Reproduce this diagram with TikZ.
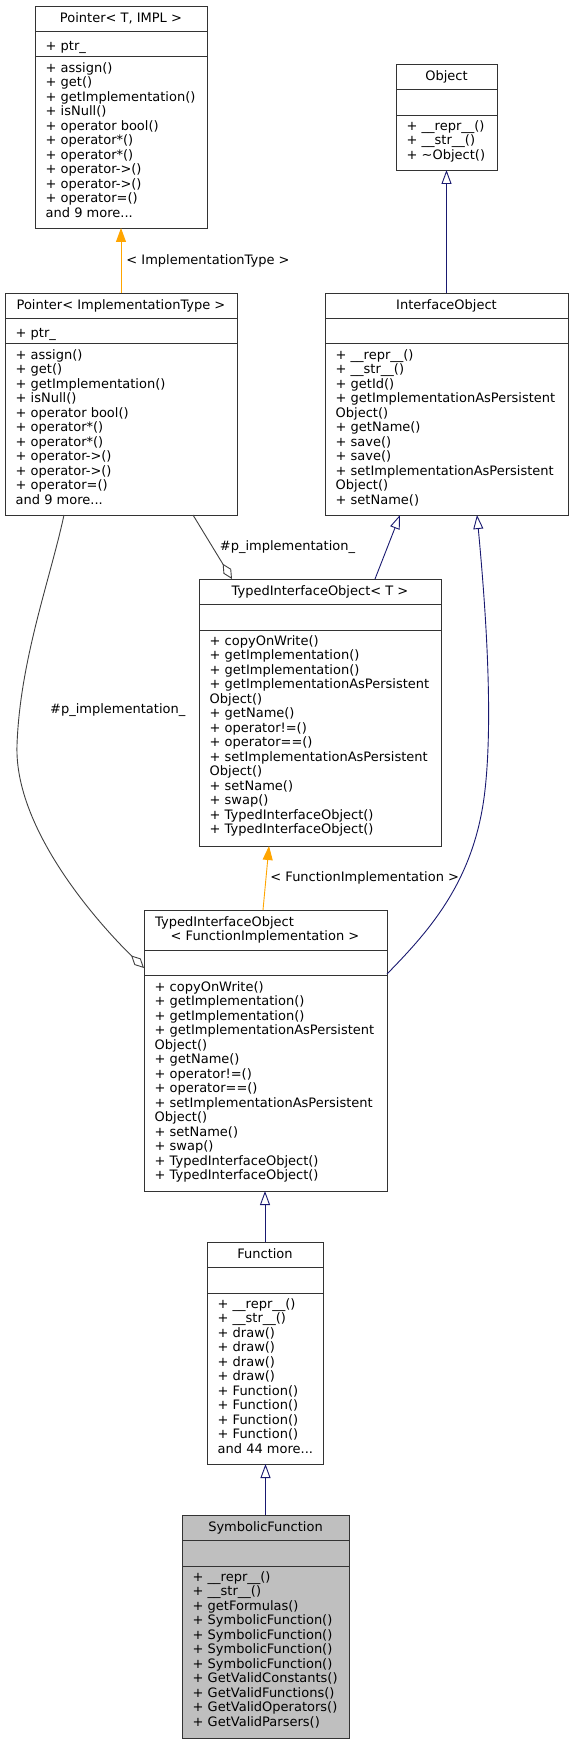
\documentclass[tikz,border=0pt]{standalone}
\usepackage{fontspec}
\setmainfont{DejaVu Sans}
\usepackage{tikz}
\usetikzlibrary{arrows.meta,positioning,calc}
\definecolor{navyline}{HTML}{191970}
\definecolor{orangeline}{HTML}{FFA500}
\definecolor{grayline}{HTML}{404040}
\definecolor{symfill}{HTML}{BFBFBF}
\newcommand{\umlfont}{\fontsize{13}{14.5}\selectfont}
\tikzset{
  classbox/.style={draw=black!80,line width=0.9pt,fill=white,anchor=north west,inner sep=0pt,outer sep=0pt},
  classname/.style={font=\umlfont,anchor=base,inner sep=0pt},
  memberlist/.style={font=\umlfont,align=left,anchor=north west,inner sep=0pt},
  partline/.style={draw=black!80,line width=0.9pt},
  inherit/.style={navyline,line width=0.9pt,-{Triangle[open,length=14pt,width=10pt,fill=white]}},
  tmplarg/.style={orangeline,line width=0.9pt,-{Triangle[length=14pt,width=10pt]}},
  usage/.style={grayline,line width=0.9pt,-{Diamond[open,length=18pt,width=9pt,fill=white]}},
  edgelabel/.style={font=\umlfont,anchor=west,inner sep=0pt,text=black}
}

\begin{document}
\begin{tikzpicture}[x=1pt,y=-1pt]
\useasboundingbox (0,0) rectangle (573,1744);

% class boxes
\node[classbox,minimum width=172pt,minimum height=222pt] (ptrT) at (35,6) {};
\node[classbox,minimum width=101pt,minimum height=106pt] (obj) at (396,64) {};
\node[classbox,minimum width=232pt,minimum height=222pt] (ptrIT) at (5,293) {};
\node[classbox,minimum width=243pt,minimum height=222pt] (iobj) at (325,293) {};
\node[classbox,minimum width=242pt,minimum height=267pt] (tioT) at (199,579) {};
\node[classbox,minimum width=243pt,minimum height=281pt] (tioF) at (144,910) {};
\node[classbox,minimum width=116pt,minimum height=222pt] (func) at (207,1242) {};
\node[classbox,minimum width=167pt,minimum height=223pt,fill=symfill] (symf) at (182,1515) {};

% compartments
\foreach \n/\h in {ptrT/25,obj/25.5,ptrIT/25,iobj/25,tioT/25.5,tioF/40,func/25.5,symf/25.5} {
  \draw[partline] ($(\n.north west)+(0,\h)$) -- ($(\n.north east)+(0,\h)$);
  \draw[partline] ($(\n.north west)+(0,\h+25.5)$) -- ($(\n.north east)+(0,\h+25.5)$);
}

% Pointer< T, IMPL >
\node[classname] at ($(ptrT.north)+(0,16.5)$) {Pointer< T, IMPL >};
\node[memberlist] at ($(ptrT.north west)+(10.5,33.7)$) {\strut+ ptr\_};
\node[memberlist] at ($(ptrT.north west)+(10.5,56)$) {\strut+ assign()\\+ get()\\+ getImplementation()\\+ isNull()\\+ operator bool()\\+ operator*()\\+ operator*()\\+ operator->()\\+ operator->()\\+ operator=()\\and 9 more...};

% Object
\node[classname] at ($(obj.north)+(0,16.5)$) {Object};
\node[memberlist] at ($(obj.north west)+(10.5,56)$) {\strut+ \_\_repr\_\_()\\+ \_\_str\_\_()\\+ \textasciitilde Object()};

% Pointer< ImplementationType >
\node[classname] at ($(ptrIT.north)+(0,16.5)$) {Pointer< ImplementationType >};
\node[memberlist] at ($(ptrIT.north west)+(10.5,33.7)$) {\strut+ ptr\_};
\node[memberlist] at ($(ptrIT.north west)+(10.5,56)$) {\strut+ assign()\\+ get()\\+ getImplementation()\\+ isNull()\\+ operator bool()\\+ operator*()\\+ operator*()\\+ operator->()\\+ operator->()\\+ operator=()\\and 9 more...};

% InterfaceObject
\node[classname] at ($(iobj.north)+(0,16.5)$) {InterfaceObject};
\node[memberlist] at ($(iobj.north west)+(10.5,56)$) {\strut+ \_\_repr\_\_()\\+ \_\_str\_\_()\\+ getId()\\+ getImplementationAsPersistent\\Object()\\+ getName()\\+ save()\\+ save()\\+ setImplementationAsPersistent\\Object()\\+ setName()};

% TypedInterfaceObject< T >
\node[classname] at ($(tioT.north)+(0,16.5)$) {TypedInterfaceObject< T >};
\node[memberlist] at ($(tioT.north west)+(10.5,56)$) {\strut+ copyOnWrite()\\+ getImplementation()\\+ getImplementation()\\+ getImplementationAsPersistent\\Object()\\+ getName()\\+ operator!=()\\+ operator==()\\+ setImplementationAsPersistent\\Object()\\+ setName()\\+ swap()\\+ TypedInterfaceObject()\\+ TypedInterfaceObject()};

% TypedInterfaceObject< FunctionImplementation >
\node[memberlist] at ($(tioF.north west)+(11,5.8)$) {\strut TypedInterfaceObject\\\hspace*{15.5pt}< FunctionImplementation >};
\node[memberlist] at ($(tioF.north west)+(10.5,71)$) {\strut+ copyOnWrite()\\+ getImplementation()\\+ getImplementation()\\+ getImplementationAsPersistent\\Object()\\+ getName()\\+ operator!=()\\+ operator==()\\+ setImplementationAsPersistent\\Object()\\+ setName()\\+ swap()\\+ TypedInterfaceObject()\\+ TypedInterfaceObject()};

% Function
\node[classname] at ($(func.north)+(0,16.5)$) {Function};
\node[memberlist] at ($(func.north west)+(10.5,56)$) {\strut+ \_\_repr\_\_()\\+ \_\_str\_\_()\\+ draw()\\+ draw()\\+ draw()\\+ draw()\\+ Function()\\+ Function()\\+ Function()\\+ Function()\\and 44 more...};

% SymbolicFunction
\node[classname] at ($(symf.north)+(0,16.5)$) {SymbolicFunction};
\node[memberlist] at ($(symf.north west)+(10.5,56)$) {\strut+ \_\_repr\_\_()\\+ \_\_str\_\_()\\+ getFormulas()\\+ SymbolicFunction()\\+ SymbolicFunction()\\+ SymbolicFunction()\\+ SymbolicFunction()\\+ GetValidConstants()\\+ GetValidFunctions()\\+ GetValidOperators()\\+ GetValidParsers()};

% relations
\draw[tmplarg] (ptrIT.north) -- node[edgelabel,xshift=5pt] {< ImplementationType >} (ptrT.south);
\draw[inherit] (iobj.north) -- (obj.south);
\draw[usage] ($(ptrIT.south west)+(188,0)$) -- node[edgelabel,xshift=7pt] {\#p\_implementation\_} ($(tioT.north west)+(33,0)$);
\draw[inherit] ($(tioT.north west)+(176,0)$) -- ($(iobj.south west)+(75,0)$);
\draw[usage] ($(ptrIT.south west)+(59,0)$) .. controls (50,580) and (20,660) .. node[pos=0.86,edgelabel,xshift=30pt] {\#p\_implementation\_} (17,745)
  .. controls (14,830) and (100,925) .. ($(tioF.north west)+(0,58)$);
\draw[inherit] ($(tioF.north east)+(0,64)$) .. controls (430,930) and (475,880) .. (485,790)
  .. controls (494,710) and (484,590) .. ($(iobj.south west)+(152,0)$);
\draw[tmplarg] ($(tioF.north west)+(119,0)$) -- node[edgelabel,xshift=4pt] {< FunctionImplementation >} ($(tioT.south west)+(70,0)$);
\draw[inherit] (func.north) -- (func.north |- tioF.south);
\draw[inherit] (symf.north) -- (symf.north |- func.south);
\end{tikzpicture}
\end{document}
